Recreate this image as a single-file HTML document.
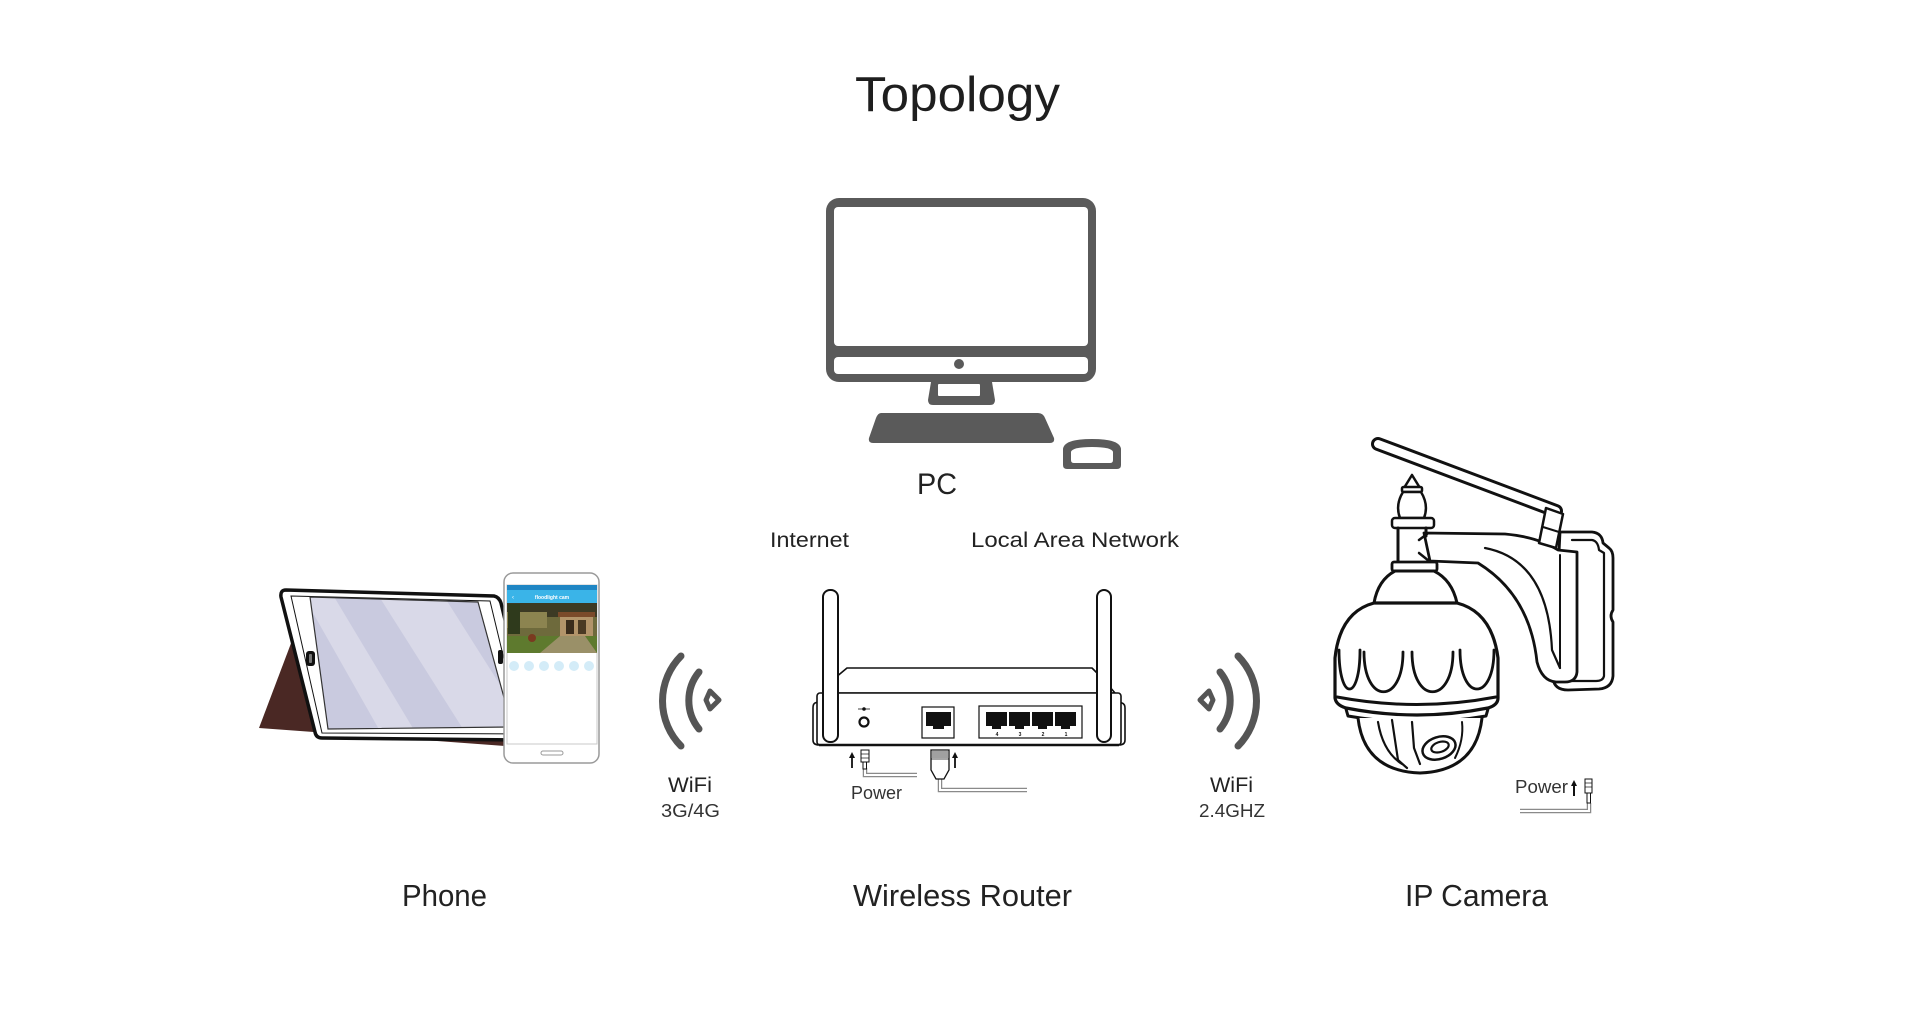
<!DOCTYPE html>
<html><head><meta charset="utf-8"><style>
html,body{margin:0;padding:0;background:#fff;}
svg{display:block;}
text{font-family:"Liberation Sans",Arial,sans-serif;}
</style></head><body>
<svg width="1920" height="1014" viewBox="0 0 1920 1014" xmlns="http://www.w3.org/2000/svg">
<rect width="1920" height="1014" fill="#fff"/>

<!-- Title -->
<text x="855" y="111" font-size="49" fill="#1e1e1e" textLength="205" lengthAdjust="spacingAndGlyphs">Topology</text>

<!-- PC -->
<g fill="#5a5a5a">
  <rect x="826" y="198" width="270" height="184" rx="13"/>
  <path d="M931,382 L992,382 L995,400 Q995,405 990,405 L933,405 Q928,405 928,400 Z"/>
  <path d="M881,413 L1038,413 Q1043,413 1045,418 L1054,438 Q1055,443 1050,443 L873,443 Q868,443 869,438 L876,418 Q878,413 881,413 Z"/>
  <path d="M1063,449 Q1064,439 1092,439 Q1120,439 1121,449 L1121,465 Q1121,469 1117,469 L1067,469 Q1063,469 1063,465 Z"/>
</g>
<rect x="834" y="207" width="254" height="139" rx="4" fill="#fff"/>
<rect x="834" y="357" width="254" height="17" rx="4" fill="#fff"/>
<circle cx="959" cy="364" r="5" fill="#5a5a5a"/>
<rect x="938" y="384" width="42" height="12" rx="1" fill="#fff"/>
<path d="M1071,452 Q1072,447 1092,447 Q1112,447 1113,452 L1113,460 Q1113,463 1110,463 L1074,463 Q1071,463 1071,460 Z" fill="#fff"/>
<text x="917" y="494" font-size="30" fill="#222" textLength="40" lengthAdjust="spacingAndGlyphs">PC</text>

<!-- Router labels -->
<text x="770" y="547" font-size="21" fill="#222" textLength="79" lengthAdjust="spacingAndGlyphs">Internet</text>
<text x="971" y="547" font-size="21" fill="#222" textLength="208" lengthAdjust="spacingAndGlyphs">Local Area Network</text>

<!-- Tablet -->
<polygon points="293,638 259,728 505,746 505,700" fill="#4a2824"/>
<path d="M286,590 L494,596 Q499,597 501,603 L532,733 Q533,740 526,740 L322,738 Q316,738 315,732 L281,597 Q280,590 286,590 Z" fill="#fff" stroke="#111" stroke-width="3.5" stroke-linejoin="round"/>
<path d="M291,596 L490,601 L522,734 L322,733 Z" fill="none" stroke="#111" stroke-width="1"/>
<defs>
  <clipPath id="scr"><polygon points="310,597 478,602 512,727 328,729"/></clipPath>
</defs>
<polygon points="310,597 478,602 512,727 328,729" fill="#c9cadf"/>
<g clip-path="url(#scr)" fill="#d9d9e8">
  <polygon points="300,590 330,590 420,740 385,740"/>
  <polygon points="375,590 440,590 535,740 470,740"/>
  <polygon points="470,590 500,590 600,740 560,740"/>
</g>
<polygon points="310,597 478,602 512,727 328,729" fill="none" stroke="#333" stroke-width="1.2"/>
<rect x="306" y="651" width="9" height="15" rx="3" fill="#111"/>
<rect x="309" y="654" width="3" height="9" rx="1" fill="#777"/>
<rect x="498" y="650" width="5" height="14" rx="2" fill="#111"/>

<!-- Phone -->
<rect x="504" y="573" width="95" height="190" rx="9" fill="#fff" stroke="#9a9a9a" stroke-width="1.5"/>
<rect x="507" y="585" width="90" height="159" fill="#fff" stroke="#c8c8c8" stroke-width="1"/>
<rect x="507" y="585" width="90" height="5" fill="#1f86c4"/>
<rect x="507" y="590" width="90" height="13" fill="#3ab4e8"/>
<text x="552" y="599" font-size="5" fill="#fff" text-anchor="middle" font-weight="bold">floodlight cam</text>
<text x="512" y="599" font-size="6" fill="#fff">‹</text>
<rect x="507" y="603" width="90" height="50" fill="#6e6a3c"/>
<rect x="507" y="603" width="90" height="14" fill="#3c3a24"/>
<rect x="507" y="612" width="40" height="16" fill="#8c8450"/>
<rect x="560" y="614" width="33" height="24" fill="#b2946a"/>
<rect x="558" y="612" width="37" height="5" fill="#7a4a2a"/>
<rect x="566" y="620" width="8" height="14" fill="#3a2c1c"/>
<rect x="578" y="620" width="8" height="14" fill="#4a3a24"/>
<rect x="507" y="636" width="90" height="17" fill="#5e7a2e"/>
<polygon points="540,653 560,636 585,636 597,653" fill="#9a9068"/>
<rect x="508" y="604" width="12" height="30" fill="#2f3a1c"/>
<circle cx="532" cy="638" r="4" fill="#7a3a20"/>
<g fill="#d4ecf8">
  <circle cx="514" cy="666" r="5"/><circle cx="529" cy="666" r="5"/><circle cx="544" cy="666" r="5"/>
  <circle cx="559" cy="666" r="5"/><circle cx="574" cy="666" r="5"/><circle cx="589" cy="666" r="5"/>
</g>
<rect x="541" y="751" width="22" height="4" rx="2" fill="#fff" stroke="#999" stroke-width="1"/>

<!-- WiFi left -->
<g fill="none" stroke="#555" stroke-linecap="round" stroke-linejoin="round">
  <path d="M681,656 A64,64 0 0 0 681,746" stroke-width="7"/>
  <path d="M699,672 A45,45 0 0 0 699,729" stroke-width="7"/>
  <polygon points="706,700 710,691 719,700 710,709" stroke-width="5"/>
</g>
<text x="668" y="792" font-size="21" fill="#222" textLength="44" lengthAdjust="spacingAndGlyphs">WiFi</text>
<text x="661" y="817" font-size="18" fill="#333" textLength="59" lengthAdjust="spacingAndGlyphs">3G/4G</text>

<!-- WiFi right (mirrored) -->
<g transform="translate(1919,0) scale(-1,1)" fill="none" stroke="#555" stroke-linecap="round" stroke-linejoin="round">
  <path d="M681,656 A64,64 0 0 0 681,746" stroke-width="7"/>
  <path d="M699,672 A45,45 0 0 0 699,729" stroke-width="7"/>
  <polygon points="706,700 710,691 719,700 710,709" stroke-width="5"/>
</g>
<text x="1210" y="792" font-size="21" fill="#222" textLength="43" lengthAdjust="spacingAndGlyphs">WiFi</text>
<text x="1199" y="817" font-size="18" fill="#333" textLength="66" lengthAdjust="spacingAndGlyphs">2.4GHZ</text>

<!-- Router -->
<g fill="#fff" stroke="#111" stroke-width="1.6" stroke-linejoin="round">
  <path d="M823,693 L835,678 L847,668 L1092,668 L1104,680 L1115,693 Z"/>
  <path d="M823,700 L815,703 Q813,704 813,708 L813,740 Q813,745 819,745 L823,745"/>
  <path d="M1115,700 L1122,703 Q1125,704 1125,708 L1125,740 Q1125,745 1119,745 L1115,745"/>
  <rect x="817" y="693" width="304" height="52" rx="3"/>
</g>
<line x1="819" y1="745" x2="1119" y2="745" stroke="#111" stroke-width="2.5"/>
<g fill="#fff" stroke="#111" stroke-width="2">
  <rect x="823" y="590" width="15" height="152" rx="7"/>
  <rect x="1097" y="590" width="14" height="152" rx="7"/>
</g>
<circle cx="864" cy="722" r="4.5" fill="#fff" stroke="#111" stroke-width="2.2"/>
<line x1="858" y1="709" x2="870" y2="709" stroke="#111" stroke-width="0.8"/>
<circle cx="864" cy="709" r="1.8" fill="#111"/>
<rect x="922" y="707" width="32" height="31" fill="#fff" stroke="#111" stroke-width="1.2"/>
<rect x="926" y="712" width="25" height="14" fill="#111"/>
<rect x="933" y="725" width="11" height="4" fill="#111"/>
<rect x="979" y="706" width="103" height="32" fill="#fff" stroke="#111" stroke-width="1.2"/>
<g fill="#111">
  <rect x="986" y="712" width="21" height="14"/><rect x="992" y="725" width="9" height="4"/>
  <rect x="1009" y="712" width="21" height="14"/><rect x="1015" y="725" width="9" height="4"/>
  <rect x="1032" y="712" width="21" height="14"/><rect x="1038" y="725" width="9" height="4"/>
  <rect x="1055" y="712" width="21" height="14"/><rect x="1061" y="725" width="9" height="4"/>
</g>
<g font-size="5" font-weight="bold" fill="#111" text-anchor="middle">
  <text x="997" y="736">4</text><text x="1020" y="736">3</text><text x="1043" y="736">2</text><text x="1066" y="736">1</text>
</g>
<!-- router cables -->
<g fill="none" stroke-linejoin="miter">
  <polyline points="865,768 865,775 917,775" stroke="#8a8a8a" stroke-width="4.5"/>
  <polyline points="865,768 865,775 917,775" stroke="#fff" stroke-width="2"/>
  <polyline points="940,778 940,790 1027,790" stroke="#8a8a8a" stroke-width="4.5"/>
  <polyline points="940,778 940,790 1027,790" stroke="#fff" stroke-width="2"/>
</g>
<rect x="861" y="750" width="8" height="12" fill="#fff" stroke="#111" stroke-width="1"/>
<line x1="861" y1="754" x2="869" y2="754" stroke="#111" stroke-width="0.7"/>
<line x1="861" y1="758" x2="869" y2="758" stroke="#111" stroke-width="0.7"/>
<rect x="863" y="762" width="3.5" height="7" fill="#fff" stroke="#111" stroke-width="1"/>
<line x1="852" y1="768" x2="852" y2="757" stroke="#111" stroke-width="1.8"/>
<polygon points="849,758 852,752 855,758" fill="#111"/>
<path d="M931,750 L949,750 L949,770 L944,779 L936,779 L931,770 Z" fill="#fff" stroke="#111" stroke-width="1.3"/>
<g stroke="#111" stroke-width="0.8">
  <line x1="933" y1="751" x2="933" y2="758"/><line x1="935" y1="751" x2="935" y2="758"/><line x1="937" y1="751" x2="937" y2="758"/>
  <line x1="939" y1="751" x2="939" y2="758"/><line x1="941" y1="751" x2="941" y2="758"/><line x1="943" y1="751" x2="943" y2="758"/>
  <line x1="945" y1="751" x2="945" y2="758"/><line x1="947" y1="751" x2="947" y2="758"/><line x1="931" y1="759" x2="949" y2="759"/>
</g>
<line x1="955" y1="768" x2="955" y2="757" stroke="#111" stroke-width="1.8"/>
<polygon points="952,758 955,752 958,758" fill="#111"/>
<text x="851" y="799" font-size="18" fill="#333" textLength="51" lengthAdjust="spacingAndGlyphs">Power</text>

<!-- IP Camera -->
<g fill="#fff" stroke="#111" stroke-width="3" stroke-linejoin="round" stroke-linecap="round">
  <line x1="1378" y1="444" x2="1556" y2="511" stroke-width="14"/>
  <line x1="1378" y1="444" x2="1556" y2="511" stroke="#fff" stroke-width="8"/>
  <path d="M1560,532 L1592,532 Q1602,533 1603,543 L1609,548 Q1613,551 1613,558 L1613,610 Q1609,616 1613,622 L1613,676 Q1612,688 1599,689 L1568,690 Q1554,690 1553,678 Z" stroke-width="2.8"/>
  <path d="M1572,540 L1592,540 Q1598,541 1599,550 L1604,553 L1604,676 Q1603,681 1596,681 L1572,681" fill="none" stroke-width="2.2"/>
  <path d="M1424,533 L1505,534 Q1538,537 1558,550 L1577,552 L1577,672 Q1576,682 1565,682 L1556,682 Q1542,681 1537,662 Q1530,595 1478,563 L1430,561 Z" stroke-width="2.8"/>
  <path d="M1485,548 Q1548,560 1552,650 L1560,668" fill="none" stroke-width="2.2"/>
  <path d="M1560,555 L1560,668" fill="none" stroke-width="2"/>
  <polygon points="1546,508 1563,514 1556,548 1539,543" stroke-width="2.5"/>
  <line x1="1543" y1="527" x2="1559" y2="532" stroke-width="2"/>
  <path d="M1404,488 L1412,475 L1420,488 Z" stroke-width="2.5"/>
  <rect x="1402" y="487" width="20" height="5" rx="1.5" stroke-width="2.5"/>
  <path d="M1403,492 Q1395,505 1400,518 L1424,518 Q1429,505 1421,492 Z" stroke-width="2.5"/>
  <rect x="1392" y="518" width="42" height="10" rx="3" stroke-width="2.5"/>
  <path d="M1398,528 L1398,563 M1426,528 L1426,536" fill="none"/>
  <path d="M1419,540 L1427,534 M1419,553 L1429,561" fill="none" stroke-width="2.5"/>
  <rect x="1392" y="562" width="45" height="9" rx="2" stroke-width="2.8"/>
  <path d="M1395,571 Q1378,580 1374,603 L1457,603 Q1452,580 1434,571 Z"/>
  <path d="M1374,603 Q1340,612 1335,658 L1335,698 Q1336,705 1346,708 Q1417,722 1488,708 Q1498,705 1498,698 L1498,658 Q1492,612 1457,603 Z" stroke-width="3.2"/>
  <path d="M1337,697 Q1417,712 1496,697" fill="none"/>
  <path d="M1346,709 L1348,716 Q1417,728 1486,716 L1488,709" fill="none"/>
  <path d="M1339,650 C1339,702 1360,702 1360,650" fill="none" stroke-width="2.8"/>
  <path d="M1364,652 C1364,705 1403,705 1403,652" fill="none" stroke-width="2.8"/>
  <path d="M1412,652 C1412,705 1453,705 1453,652" fill="none" stroke-width="2.8"/>
  <path d="M1460,650 C1460,702 1494,702 1494,650" fill="none" stroke-width="2.8"/>
  <path d="M1358,718 Q1364,771 1420,773 Q1476,771 1482,718" stroke-width="3"/>
  <path d="M1378,722 Q1383,752 1402,764" fill="none" stroke-width="2.2"/>
  <path d="M1392,720 L1398,760 L1407,768" fill="none" stroke-width="2.2"/>
  <path d="M1412,722 L1414,748 L1420,764" fill="none" stroke-width="2.2"/>
  <path d="M1462,722 Q1464,740 1455,758" fill="none" stroke-width="2"/>
  <ellipse cx="1439" cy="748" rx="17" ry="11" transform="rotate(-18 1439 748)" stroke-width="2.5"/>
  <ellipse cx="1440" cy="747" rx="9" ry="5" transform="rotate(-18 1440 747)" stroke-width="2.2"/>
</g>
<g fill="none">
  <polyline points="1589,803 1589,811 1520,811" stroke="#8a8a8a" stroke-width="4.5"/>
  <polyline points="1589,803 1589,811 1520,811" stroke="#fff" stroke-width="2"/>
</g>
<rect x="1585" y="779" width="7" height="14" fill="#fff" stroke="#111" stroke-width="1"/>
<line x1="1585" y1="783" x2="1592" y2="783" stroke="#111" stroke-width="0.7"/>
<line x1="1585" y1="787" x2="1592" y2="787" stroke="#111" stroke-width="0.7"/>
<rect x="1587" y="793" width="3.5" height="10" fill="#fff" stroke="#111" stroke-width="1"/>
<line x1="1574" y1="796" x2="1574" y2="785" stroke="#111" stroke-width="2"/>
<polygon points="1571,786 1574,780 1577,786" fill="#111"/>
<text x="1515" y="793" font-size="18" fill="#333" textLength="53" lengthAdjust="spacingAndGlyphs">Power</text>

<!-- Bottom labels -->
<text x="402" y="906" font-size="31" fill="#222" textLength="85" lengthAdjust="spacingAndGlyphs">Phone</text>
<text x="853" y="906" font-size="31" fill="#222" textLength="219" lengthAdjust="spacingAndGlyphs">Wireless Router</text>
<text x="1405" y="906" font-size="31" fill="#222" textLength="143" lengthAdjust="spacingAndGlyphs">IP Camera</text>
</svg>
</body></html>
